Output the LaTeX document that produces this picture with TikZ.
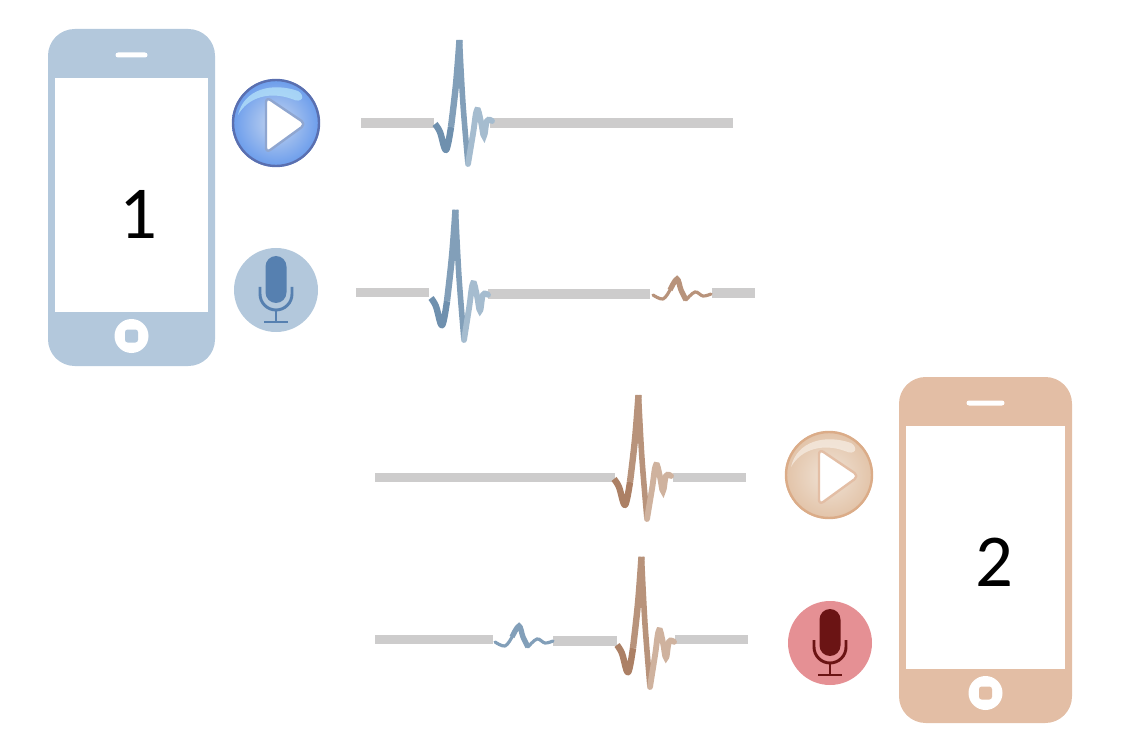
\documentclass[tikz,border=0pt]{standalone}
\usepackage{fontspec}
\setmainfont{Carlito}
\usepackage{tikz}
\definecolor{bluebody}{HTML}{B3C8DC}
\definecolor{bluemic}{HTML}{5680B0}
\definecolor{bluedark}{HTML}{6F90AE}
\definecolor{bluemid}{HTML}{829FB9}
\definecolor{bluelight}{HTML}{A5BCCF}
\definecolor{blueedge}{HTML}{5A6FAF}
\definecolor{bluefillin}{HTML}{C6D6EF}
\definecolor{bluefillout}{HTML}{6A9CEC}
\definecolor{blueglow}{HTML}{B5E3FA}
\definecolor{bluetri}{HTML}{8FA6D0}
\definecolor{tanbody}{HTML}{E3BEA5}
\definecolor{tandark}{HTML}{AC8065}
\definecolor{tanmid}{HTML}{B8937B}
\definecolor{tanlight}{HTML}{CFB29E}
\definecolor{tanedge}{HTML}{DBAC88}
\definecolor{tanfillin}{HTML}{F0E3D6}
\definecolor{tanfillout}{HTML}{E2C3A8}
\definecolor{tanglow}{HTML}{F6ECE2}
\definecolor{redbody}{HTML}{E59094}
\definecolor{redmic}{HTML}{6B1414}
\definecolor{greyline}{HTML}{CDCCCC}
\tikzset{
  pics/spike/.style n args={3}{code={
    \draw[#1,line width=4.8pt,line join=round] plot[smooth,tension=0.6] coordinates {(0,0) (5,8) (11,26) (16,3)};
    \draw[#2,line width=4.8pt] plot[smooth,tension=0.6] coordinates {(16,3) (21,-40) (24.5,-84)};
    \draw[#2,line width=4.2pt] plot[smooth,tension=0.6] coordinates {(24.5,-84) (28,-20) (33,40)};
    \draw[#3,line width=4.4pt,line cap=round] plot[smooth,tension=0.7] coordinates {(33,40) (38,10) (42,-14) (46,-2) (49,12) (52,-3) (57,-3)};
  }},
  pics/echo/.style={code={
    \draw[#1,line width=2.4pt,line join=round,line cap=round] plot[smooth,tension=0.6] coordinates {(0,0) (10,4) (17,-5)};
    \draw[#1,line width=4pt] plot[smooth,tension=0.6] coordinates {(17,-5) (24,-16) (28,-5) (33,5)};
    \draw[#1,line width=2.4pt,line cap=round] plot[smooth,tension=0.6] coordinates {(33,5) (42,-3) (50,1) (58,-1)};
  }},
  pics/phone/.style n args={3}{code={
    % #1 colour, #2 half width, #3 half height
    \fill[#1,rounded corners=20pt] (-#2,-#3) rectangle (#2,#3);
    \fill[white] (-#2+6.5,-#3+49) rectangle (#2-7.5,#3-54);
    \fill[white,rounded corners=1.9pt] (-#2+67.5,-#3+23.5) rectangle (#2-67.5,-#3+28.5);
    \fill[white] (0,#3-30) circle (17);
    \fill[#1,rounded corners=2pt] (-6.5,#3-36.5) rectangle (6.5,#3-23.5);
  }},
  pics/playbtn/.style n args={5}{code={
    % #1 border, #2 centre, #3 edge, #4 glow, #5 triangle edge
    \shade[inner color=#2,outer color=#3] (0,0) circle (44);
    \fill[#4,opacity=0.75] (-38,-8) .. controls (-32,-34) and (-4,-41) .. (22,-32) .. controls (30,-27) and (26,-19) .. (16,-24) .. controls (-6,-32) and (-28,-26) .. (-38,-8);
    \draw[#1,line width=1.8pt] (0,0) circle (43);
    \draw[#5,fill=white,line width=1.8pt,line join=round,rounded corners=4pt] (-10,-26) -- (30,1) -- (-10,30) -- cycle;
  }},
  pics/micbtn/.style 2 args={code={
    \fill[#1] (0,0) circle (42);
    \fill[#2,rounded corners=7.9pt] (-10.5,-34) rectangle (10.5,13);
    \draw[#2,line width=2.2pt] (-16,-3) -- (-16,4) arc[start angle=180,end angle=0,x radius=16,y radius=16] -- (16,-3);
    \draw[#2,line width=2.2pt] (0,20) -- (0,32);
    \draw[#2,line width=2.2pt] (-12,32) -- (12,32);
  }}
}
\begin{document}
\begin{tikzpicture}[x=0.75pt,y=-0.75pt]
\tikzstyle{base}=[draw=greyline,line width=6.8pt]
\tikzstyle{digit}=[inner sep=0pt,font=\fontsize{56}{60}\selectfont]
\useasboundingbox (0,0) rectangle (1122,738);
%
\pic at (131.5,197.5) {phone={bluebody}{83.5}{168.5}};
\pic at (985.5,550) {phone={tanbody}{86.5}{173}};
\node[digit](one) at (138,214){1};
\node[digit](two) at (994,562){2};
%
\pic at (276,123) {playbtn={blueedge}{bluefillin}{bluefillout}{blueglow}{bluetri}};
\pic at (829,475) {playbtn={tanedge}{tanfillin}{tanfillout}{tanglow}{tanbody}};
\pic at (276,290) {micbtn={bluebody}{bluemic}};
\pic at (830,643) {micbtn={redbody}{redmic}};
%
\draw[base] (361,123) -- (434,123);
\draw[base] (490,123) -- (733,123);
\draw[base] (356,292.5) -- (429,292.5);
\draw[base] (488,294) -- (650,294);
\draw[base] (712,293) -- (755,293);
%
\draw[base] (375,477.5) -- (615,477.5);
\draw[base] (673,477.5) -- (746,477.5);
\draw[base] (375,639.5) -- (493,639.5);
\draw[base] (553,641) -- (617,641);
\draw[base] (675,639.5) -- (748,639.5);
%
\pic at (435,124) {spike={bluedark}{bluemid}{bluelight}};
\pic[yscale=1.05] at (431,298) {spike={bluedark}{bluemid}{bluelight}};
\pic at (614,479) {spike={tandark}{tanmid}{tanlight}};
\pic[yscale=1.05] at (617,645) {spike={tandark}{tanmid}{tanlight}};
%
\pic at (653,295) {echo=tanmid};
\pic at (495,642) {echo=bluemid};
\end{tikzpicture}
\end{document}
